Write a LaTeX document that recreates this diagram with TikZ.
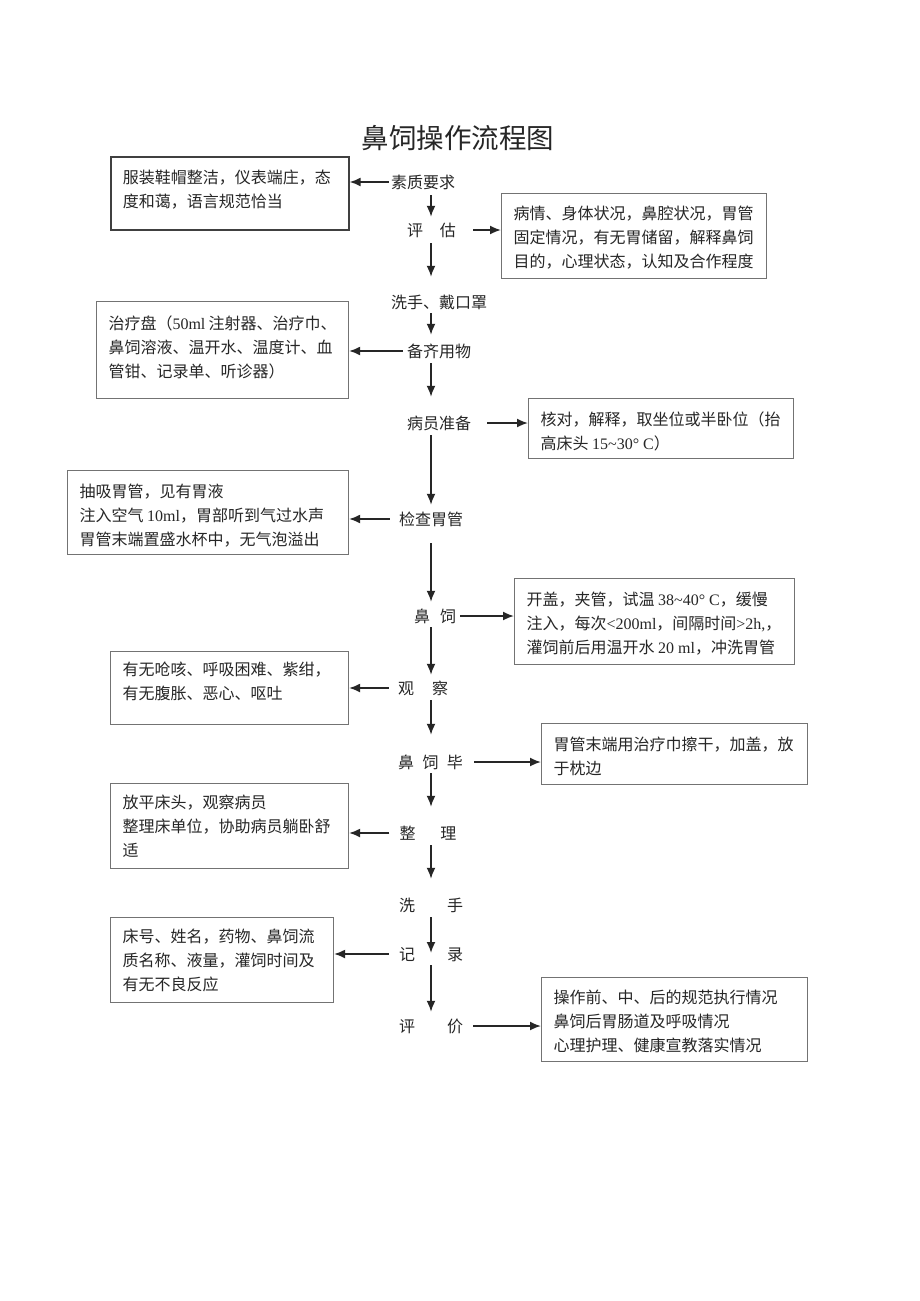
\documentclass[tikz,border=0pt]{standalone}
\usepackage{fontspec}
\setmainfont{Liberation Serif}
\newfontfamily\cjk{Noto Sans CJK SC}
\newfontfamily\lat{Liberation Serif}
\usetikzlibrary{arrows.meta}
\newcommand\bxtext[4]{\parbox[t][#2pt][t]{#1pt}{\raggedright\vspace*{#3pt}\rule{0pt}{13pt}#4}}
\begin{document}
\begin{tikzpicture}[x=1pt,y=-1pt,
  every node/.style={text=black!85},
  stp/.style={font=\cjk\fontsize{16}{16}\selectfont, inner sep=0pt, text height=14pt, text depth=2pt},
  bx/.style={draw=black!55, line width=1.1pt, anchor=north west, inner xsep=12pt, inner ysep=0pt, font=\cjk\fontsize{16}{24}\selectfont},
  bxa/.style={bx, draw=black!75, line width=1.6pt},
  arr/.style={line width=1.8pt, draw=black!85, -{Latex[length=11pt,width=9pt]}},
]
\useasboundingbox (0,0) rectangle (920,1301);
\fill[white] (0,0) rectangle (920,1301);
\coordinate (axis) at (431,0);

\node[font=\cjk\fontsize{27.5}{28}\selectfont, inner sep=0pt] (title) at (458,138) {鼻饲操作流程图};

% steps
\node[stp] (s1) at (423,182) {素质要求};
\node[stp] (s2) at (431.5,230) {评\hspace{17pt}估};
\node[stp] (s3) at (439,302) {洗手、戴口罩};
\node[stp] (s4) at (439,351) {备齐用物};
\node[stp] (s5) at (439,423) {病员准备};
\node[stp] (s6) at (431,519) {检查胃管};
\node[stp] (s7) at (435,616) {鼻\hspace{10pt}饲};
\node[stp] (s8) at (423,688) {观\hspace{18pt}察};
\node[stp] (s9) at (430.5,762) {鼻\hspace{8.5pt}饲\hspace{8.5pt}毕};
\node[stp] (s10) at (428,833) {整\hspace{25pt}理};
\node[stp] (s11) at (431,905) {洗\hspace{32pt}手};
\node[stp] (s12) at (431,954) {记\hspace{32pt}录};
\node[stp] (s13) at (431,1026) {评\hspace{32pt}价};

% boxes
\node[bxa] (b1) at (110,156) {\bxtext{214}{73}{13}{服装鞋帽整洁，仪表端庄，态\\度和蔼，语言规范恰当}};
\node[bx] (b2) at (501,193) {\bxtext{241}{85}{12}{病情、身体状况，鼻腔状况，胃管\\固定情况，有无胃储留，解释鼻饲\\目的，心理状态，认知及合作程度}};
\node[bx] (b4) at (96,301) {\bxtext{228}{97}{14}{治疗盘（{\lat 50ml}~注射器、治疗巾、\\鼻饲溶液、温开水、温度计、血\\管钳、记录单、听诊器）}};
\node[bx] (b5) at (528,398) {\bxtext{241}{60}{13}{核对，解释，取坐位或半卧位（抬\\高床头 {\lat 15\textasciitilde 30°~C}）}};
\node[bx] (b6) at (67,470) {\bxtext{257}{84}{13}{抽吸胃管，见有胃液\\注入空气~{\lat 10ml}，胃部听到气过水声\\胃管末端置盛水杯中，无气泡溢出}};
\node[bx] (b7) at (514,578) {\bxtext{256}{86}{13}{开盖，夹管，试温~{\lat 38\textasciitilde 40°~C}，缓慢\\注入，每次{\lat <200ml}，间隔时间{\lat >2h,}，\\灌饲前后用温开水~{\lat 20~ml}，冲洗胃管}};
\node[bx] (b8) at (110,651) {\bxtext{214}{73}{10}{有无呛咳、呼吸困难、紫绀，\\有无腹胀、恶心、呕吐}};
\node[bx] (b9) at (541,723) {\bxtext{242}{61}{13}{胃管末端用治疗巾擦干，加盖，放\\于枕边}};
\node[bx] (b10) at (110,783) {\bxtext{214}{85}{11}{放平床头，观察病员\\整理床单位，协助病员躺卧舒\\适}};
\node[bx] (b12) at (110,917) {\bxtext{199}{85}{11}{床号、姓名，药物、鼻饲流\\质名称、液量，灌饲时间及\\有无不良反应}};
\node[bx] (b13) at (541,977) {\bxtext{242}{84}{12}{操作前、中、后的规范执行情况\\鼻饲后胃肠道及呼吸情况\\心理护理、健康宣教落实情况}};

% vertical flow
\draw[arr, shorten <=5pt, shorten >=5pt] (s1.south -| axis) -- (s2.north -| axis);
\draw[arr, shorten <=5pt, shorten >=17pt] (s2.south -| axis) -- (s3.north -| axis);
\draw[arr, shorten <=3pt, shorten >=8pt] (s3.south -| axis) -- (s4.north -| axis);
\draw[arr, shorten <=4pt, shorten >=18pt] (s4.south -| axis) -- (s5.north -| axis);
\draw[arr, shorten <=4pt, shorten >=6pt] (s5.south -| axis) -- (s6.north -| axis);
\draw[arr, shorten <=16pt, shorten >=6pt] (s6.south -| axis) -- (s7.north -| axis);
\draw[arr, shorten <=3pt, shorten >=5pt] (s7.south -| axis) -- (s8.north -| axis);
\draw[arr, shorten <=4pt, shorten >=19pt] (s8.south -| axis) -- (s9.north -| axis);
\draw[arr, shorten <=3pt, shorten >=18pt] (s9.south -| axis) -- (s10.north -| axis);
\draw[arr, shorten <=4pt, shorten >=18pt] (s10.south -| axis) -- (s11.north -| axis);
\draw[arr, shorten <=4pt, shorten >=1pt] (s11.south -| axis) -- (s12.center -| axis);
\draw[arr, shorten <=3pt, shorten >=6pt] (s12.south -| axis) -- (s13.north -| axis);

% side arrows
\draw[arr, shorten <=2pt] (s1.west) -- (s1.west -| b1.east);
\draw[arr, shorten <=17pt] (s2.east) -- (s2.east -| b2.west);
\draw[arr, shorten <=4pt] (s4.west) -- (s4.west -| b4.east);
\draw[arr, shorten <=16pt] (s5.east) -- (s5.east -| b5.west);
\draw[arr, shorten <=9pt] (s6.west) -- (s6.west -| b6.east);
\draw[arr, shorten <=4pt] (s7.east) -- (s7.east -| b7.west);
\draw[arr, shorten <=9pt] (s8.west) -- (s8.west -| b8.east);
\draw[arr, shorten <=11pt] (s9.east) -- (s9.east -| b9.west);
\draw[arr, shorten <=10pt] (s10.west) -- (s10.west -| b10.east);
\draw[arr, shorten <=10pt] (s12.west) -- (s12.west -| b12.east);
\draw[arr, shorten <=10pt] (s13.east) -- (s13.east -| b13.west);
\end{tikzpicture}
\end{document}
